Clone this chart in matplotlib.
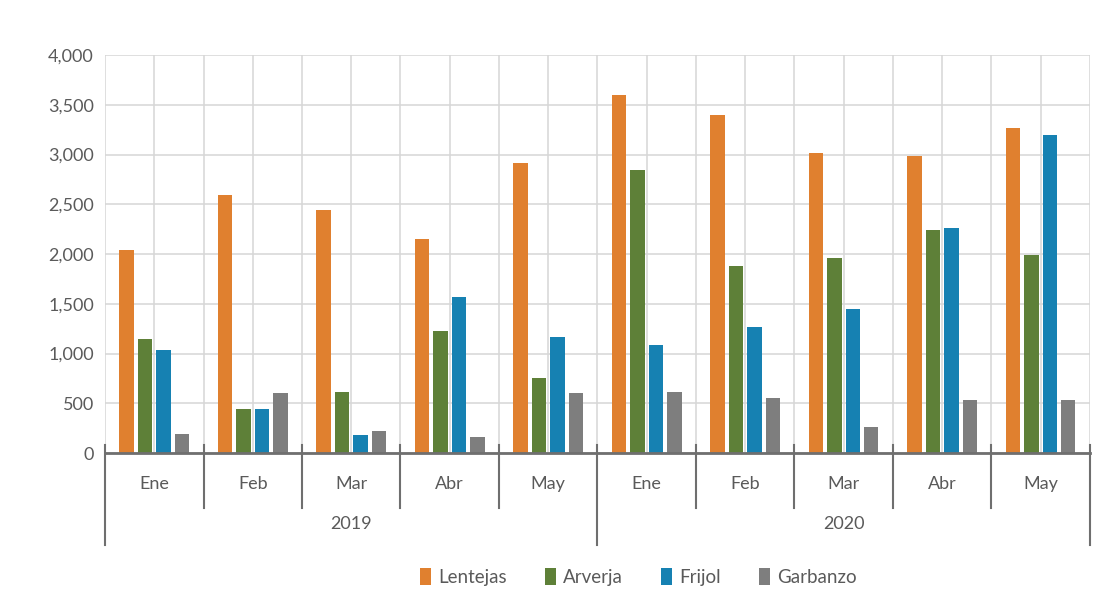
import numpy as np
import matplotlib
matplotlib.use("Agg")
import matplotlib.pyplot as plt
import matplotlib.transforms as mtransforms
from matplotlib.ticker import FuncFormatter

months = ["Ene", "Feb", "Mar", "Abr", "May", "Ene", "Feb", "Mar", "Abr", "May"]
years = ["2019", "2020"]
series = ["Lentejas", "Arverja", "Frijol", "Garbanzo"]

lentejas = [2040, 2590, 2440, 2150, 2910, 3600, 3400, 3020, 2990, 3270]
arverja = [1150, 445, 610, 1230, 750, 2840, 1880, 1960, 2240, 1990]
frijol = [1035, 445, 180, 1570, 1170, 1085, 1270, 1445, 2265, 3195]
garbanzo = [190, 600, 220, 160, 600, 610, 555, 260, 530, 530]

colors = ["#E0802F", "#5E8038", "#1681B2", "#7E7E7E"]

plt.rcParams["font.family"] = ["Lato", "DejaVu Sans"]

fig = plt.figure(figsize=(10.95, 6), dpi=100)
ax = fig.add_axes([0.0959, 0.245, 0.8995, 0.6633])

x = np.arange(len(months))
step = 0.187
width = 0.145
for k, (name, vals) in enumerate(zip(series, [lentejas, arverja, frijol, garbanzo])):
    ax.bar(x + (k - 1.5) * step, vals, width, color=colors[k], label=name, zorder=3)

ax.set_xlim(-0.5, len(months) - 0.5)
ax.set_ylim(0, 4000)
ax.set_yticks(np.arange(0, 4001, 500))
ax.yaxis.set_major_formatter(FuncFormatter(lambda v, p: f"{int(v):,}"))
ax.tick_params(axis="y", length=0, labelsize=13, labelcolor="#5a5a5a", pad=8)

# grid: horizontal every 500, vertical every half month
ax.set_xticks(np.arange(-0.5, len(months), 0.5))
ax.tick_params(axis="x", length=0, labelbottom=False)
ax.grid(True, color="#d6d6d6", linewidth=1.1, zorder=0)
for s in ["top", "right", "left"]:
    ax.spines[s].set_visible(False)
ax.spines["bottom"].set_color("#6f6f6f")
ax.spines["bottom"].set_linewidth(2)
ax.spines["bottom"].set_zorder(4)

# multi-level category axis
trans = mtransforms.blended_transform_factory(ax.transData, ax.transAxes)
for i, m in enumerate(months):
    ax.text(i, -0.077, m, transform=trans, ha="center", va="center",
            fontsize=13, color="#5a5a5a")
for b in np.arange(-0.5, len(months), 1.0):
    low = -0.232 if b in (-0.5, 4.5, 9.5) else -0.138
    ax.plot([b, b], [0.02, low], transform=trans, color="#6f6f6f",
            linewidth=1.5, clip_on=False, zorder=4)
for j, yr in enumerate(years):
    ax.text(2 + 5 * j, -0.178, yr, transform=trans, ha="center", va="center",
            fontsize=13, color="#5a5a5a")

fig.legend(loc="center", bbox_to_anchor=(0.583, 0.038), ncol=4, frameon=False,
           fontsize=13.5, handlelength=0.6, handleheight=1.0, handletextpad=0.4,
           columnspacing=2.0, labelcolor="#5a5a5a")

fig.savefig("out.png", dpi=100, facecolor="white")
